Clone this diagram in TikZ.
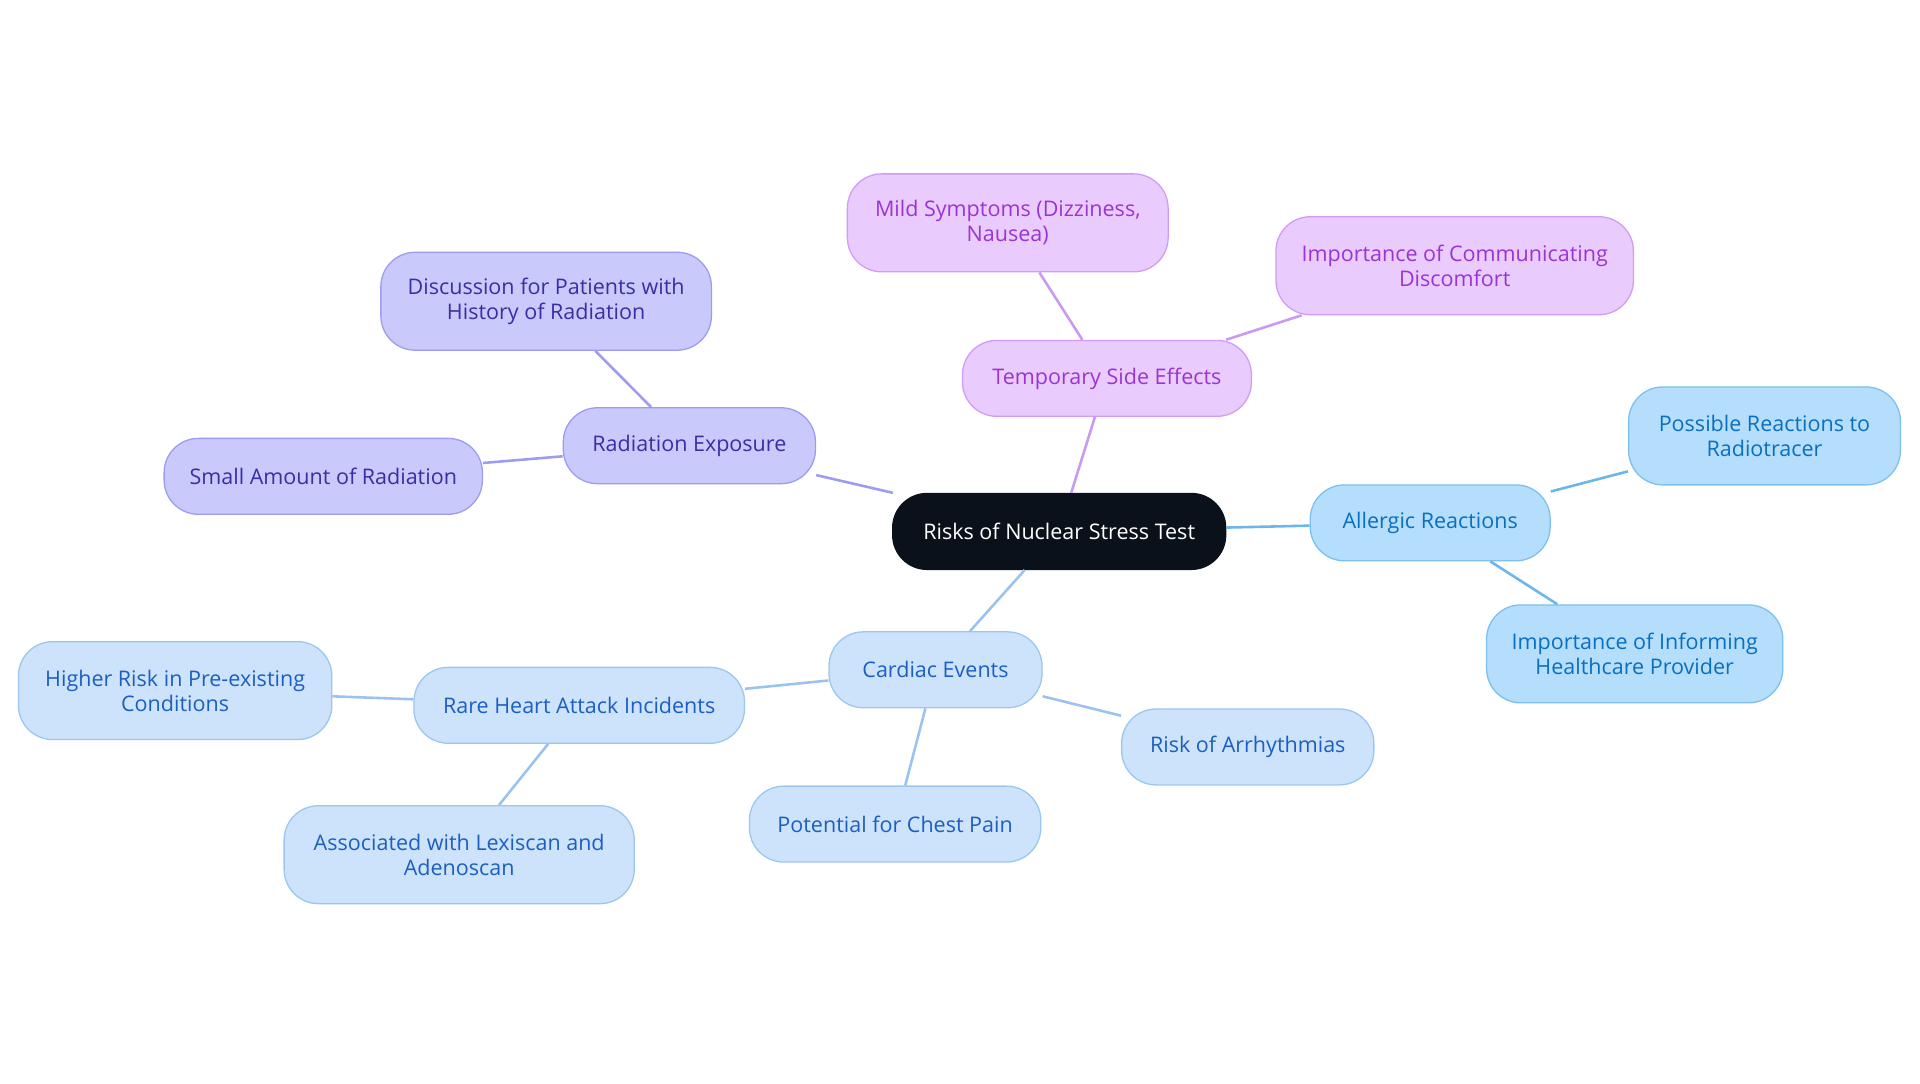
\documentclass[tikz,border=0pt]{standalone}
\usepackage{fontspec}
\setmainfont{Open Sans}
\definecolor{rootc}{HTML}{0B111B}
\definecolor{radf}{HTML}{CAC9FC}\definecolor{radd}{HTML}{9D9CF0}\definecolor{radt}{HTML}{3730A3}
\definecolor{tmpf}{HTML}{E9CBFD}\definecolor{tmpd}{HTML}{D09CF5}\definecolor{tmpt}{HTML}{9A35D4}\definecolor{tmpe}{HTML}{C89AF0}
\definecolor{alf}{HTML}{B4DEFC}\definecolor{ald}{HTML}{7CC0F0}\definecolor{alt}{HTML}{0B6FBF}\definecolor{ale}{HTML}{6CB6EC}
\definecolor{caf}{HTML}{CDE3FB}\definecolor{cad}{HTML}{9CC6F0}\definecolor{cat}{HTML}{1D5FC0}\definecolor{cae}{HTML}{9CC2EF}
\begin{document}
\begin{tikzpicture}[x=0.02cm,y=-0.02cm,
  box/.style={rounded corners=0.56cm,line width=0.6pt,align=center,font=\fontsize{10}{11.5}\selectfont,inner sep=0pt},
  rootbox/.style={box,fill=rootc,draw=rootc,text=white},
  rad/.style={box,fill=radf,draw=radd,text=radt},
  tmp/.style={box,fill=tmpf,draw=tmpd,text=tmpt},
  al/.style={box,fill=alf,draw=ald,text=alt},
  ca/.style={box,fill=caf,draw=cad,text=cat},
  edge/.style={line width=1.2pt}]
\useasboundingbox (0,0) rectangle (1568,885);
\begin{scope}[on background layer/.style={}]
\end{scope}
% nodes
\node[rootbox,minimum width=5.44cm,minimum height=1.24cm] (root) at (865,434) {Risks of Nuclear Stress Test};
\node[rad,minimum width=4.12cm,minimum height=1.24cm] (rad) at (563,364) {Radiation Exposure};
\node[rad,minimum width=5.4cm,minimum height=1.6cm] (disc) at (446,246) {Discussion for Patients with\\History of Radiation};
\node[rad,minimum width=5.2cm,minimum height=1.24cm] (small) at (264,389) {Small Amount of Radiation};
\node[tmp,minimum width=4.72cm,minimum height=1.24cm] (tmp) at (904,309) {Temporary Side Effects};
\node[tmp,minimum width=5.24cm,minimum height=1.6cm] (mild) at (823,182) {Mild Symptoms (Dizziness,\\Nausea)};
\node[tmp,minimum width=5.84cm,minimum height=1.6cm] (comm) at (1188,217) {Importance of Communicating\\Discomfort};
\node[al,minimum width=3.92cm,minimum height=1.24cm] (al) at (1168,427) {Allergic Reactions};
\node[al,minimum width=4.44cm,minimum height=1.6cm] (poss) at (1441,356) {Possible Reactions to\\Radiotracer};
\node[al,minimum width=4.84cm,minimum height=1.6cm] (inf) at (1335,534) {Importance of Informing\\Healthcare Provider};
\node[ca,minimum width=3.48cm,minimum height=1.24cm] (ca) at (764,547) {Cardiac Events};
\node[ca,minimum width=5.4cm,minimum height=1.24cm] (rare) at (473,576) {Rare Heart Attack Incidents};
\node[ca,minimum width=5.12cm,minimum height=1.6cm] (high) at (143,564) {Higher Risk in Pre-existing\\Conditions};
\node[ca,minimum width=5.72cm,minimum height=1.6cm] (assoc) at (375,698) {Associated with Lexiscan and\\Adenoscan};
\node[ca,minimum width=4.76cm,minimum height=1.24cm] (chest) at (731,673) {Potential for Chest Pain};
\node[ca,minimum width=4.12cm,minimum height=1.24cm] (arr) at (1019,610) {Risk of Arrhythmias};
% edges
\begin{scope}[edge]
\draw[radd] (root) -- (rad);
\draw[radd] (rad) -- (disc);
\draw[radd] (rad) -- (small);
\draw[tmpe] (root) -- (tmp);
\draw[tmpe] (tmp) -- (mild);
\draw[tmpe] (tmp) -- (comm);
\draw[ale] (root) -- (al);
\draw[ale] (al) -- (poss);
\draw[ale] (al) -- (inf);
\draw[cae] (root) -- (ca);
\draw[cae] (ca) -- (rare);
\draw[cae] (rare) -- (high);
\draw[cae] (rare) -- (assoc);
\draw[cae] (ca) -- (chest);
\draw[cae] (ca) -- (arr);
\end{scope}
\end{tikzpicture}
\end{document}
